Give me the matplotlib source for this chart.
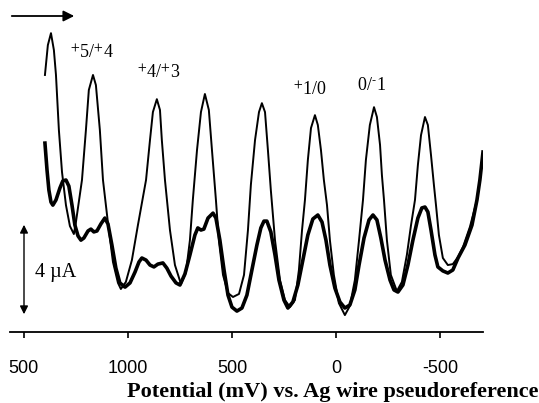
import matplotlib
matplotlib.use("Agg")
import matplotlib.pyplot as plt

plt.rcParams['mathtext.fontset'] = 'stix'

# Potential (mV) and current (µA)
thin_mv = [1399, 1385, 1370, 1356, 1346, 1332, 1317, 1298, 1279, 1260, 1250, 1221, 1202, 1188,
           1168, 1154, 1135, 1120, 1096, 1072, 1048, 1034, 1010, 981, 952, 913, 894, 880, 861,
           846, 837, 822, 798, 774, 745, 721, 702, 688, 668, 649, 630, 611, 596, 577, 563, 543,
           519, 495, 466, 442, 423, 409, 389, 370, 356, 341, 327, 313, 293, 269, 245, 221, 197,
           178, 163, 149, 135, 120, 101, 87, 72, 58, 43, 29, 10, -14, -43, -67, -91, -111, -130,
           -144, -163, -183, -197, -212, -221, -231, -245, -264, -293, -317, -341, -361, -380,
           -394, -409, -428, -442, -457, -471, -481, -495, -514, -538, -562, -587, -611, -644,
           -678, -692, -707]
thin_ua = [10.94, 12.21, 12.72, 12.00, 10.94, 8.60, 6.81, 5.40, 4.51, 4.17, 4.68, 6.47, 8.60, 10.30,
           10.94, 10.51, 8.60, 6.47, 4.64, 2.98, 2.09, 1.83, 2.13, 3.06, 4.55, 6.47, 8.17, 9.36, 9.91,
           9.45, 8.17, 6.47, 4.34, 2.85, 2.04, 2.55, 3.91, 5.62, 7.74, 9.36, 10.13, 9.45, 7.74, 5.62,
           3.91, 2.43, 1.66, 1.49, 1.62, 2.43, 4.34, 6.26, 8.17, 9.36, 9.74, 9.36, 7.74, 6.04, 3.91,
           2.21, 1.36, 1.06, 1.36, 2.64, 4.34, 5.62, 7.32, 8.68, 9.23, 8.81, 7.74, 6.47, 5.40, 3.91,
           2.43, 1.23, 0.72, 1.11, 2.21, 3.91, 5.62, 7.32, 8.81, 9.57, 9.15, 7.96, 6.68, 5.62, 3.91,
           2.43, 1.74, 2.13, 3.28, 4.55, 5.62, 7.11, 8.38, 9.15, 8.81, 7.53, 6.26, 5.40, 4.13, 3.15,
           2.85, 2.89, 3.19, 3.62, 4.47, 5.62, 6.47, 7.66]

thick_mv = [1399, 1389, 1380, 1370, 1361, 1346, 1327, 1313, 1298, 1284, 1269, 1255, 1240, 1226,
            1212, 1192, 1178, 1164, 1149, 1130, 1111, 1096, 1077, 1058, 1039, 1014, 990, 966, 947,
            933, 913, 894, 875, 856, 832, 813, 793, 769, 750, 726, 702, 678, 664, 649, 635, 615,
            591, 577, 558, 538, 519, 500, 476, 452, 428, 404, 380, 361, 346, 332, 313, 293, 274,
            250, 231, 207, 183, 159, 135, 111, 87, 67, 48, 29, 5, -19, -43, -67, -91, -111, -135,
            -159, -178, -197, -216, -236, -260, -279, -298, -322, -346, -370, -394, -413, -428,
            -442, -457, -476, -490, -514, -538, -562, -587, -620, -654, -678, -692, -707]
thick_ua = [8.04, 6.89, 6.04, 5.53, 5.40, 5.62, 6.13, 6.43, 6.47, 6.21, 5.40, 4.55, 4.09, 3.91,
            4.00, 4.30, 4.38, 4.26, 4.30, 4.60, 4.85, 4.60, 3.70, 2.72, 2.09, 1.91, 2.09, 2.55, 2.98,
            3.15, 3.06, 2.85, 2.77, 2.89, 2.94, 2.72, 2.38, 2.09, 2.00, 2.47, 3.28, 4.13, 4.43, 4.34,
            4.38, 4.85, 5.06, 4.85, 3.91, 2.64, 1.57, 1.06, 0.89, 1.02, 1.57, 2.64, 3.70, 4.43, 4.72,
            4.72, 4.26, 3.28, 2.21, 1.36, 1.02, 1.28, 2.00, 3.06, 4.13, 4.81, 4.98, 4.68, 3.91, 2.85,
            1.87, 1.28, 1.02, 1.15, 1.79, 2.85, 4.00, 4.77, 4.98, 4.77, 4.00, 3.06, 2.21, 1.79, 1.70,
            2.00, 2.85, 3.91, 4.85, 5.28, 5.32, 5.11, 4.34, 3.28, 2.77, 2.60, 2.51, 2.64, 3.15, 3.70,
            4.55, 5.62, 6.47, 7.66]

tick_values = [1500, 1000, 500, 0, -500]
tick_labels = ['500', '1000', '500', '0', '-500']

peak_labels = [r'$^{+}$5/$^{+}$4', r'$^{+}$4/$^{+}$3', r'$^{+}$1/0', r'0/$^{\text{-}}$1']
peak_label_pos = [(1279, 11.85), (957, 11.0), (207, 10.3), (-101, 10.5)]

fig = plt.figure(figsize=(5.39, 4.03), dpi=100)
ax = fig.add_axes([10/539, 71/403, 473/539, 312/403])

ax.plot(thin_mv, thin_ua, color='black', lw=1.4, solid_joinstyle='round')
ax.plot(thick_mv, thick_ua, color='black', lw=2.6, solid_joinstyle='round')

ax.set_xlim(1567, -707)
ax.set_ylim(0, 13.28)

for s in ['top', 'right', 'left']:
    ax.spines[s].set_visible(False)
ax.spines['bottom'].set_linewidth(1.3)
ax.set_yticks([])
ax.set_xticks(tick_values)
ax.set_xticklabels(tick_labels, fontfamily='Liberation Sans', fontsize=13)
ax.tick_params(axis='x', direction='out', length=4, width=1.2, pad=16)

for lab, (x, y) in zip(peak_labels, peak_label_pos):
    ax.text(x, y, lab, fontfamily='Liberation Serif', fontsize=13, ha='left', va='center')

# sweep direction arrow
ax.annotate('', xy=(77/539, 1 - 16/403), xytext=(9/539, 1 - 16/403),
            xycoords='figure fraction', textcoords='figure fraction',
            arrowprops=dict(arrowstyle='-|>', color='black', lw=1.3, mutation_scale=16))

# 4 µA scale bar
ax.annotate('', xy=(24/539, 1 - 317/403), xytext=(24/539, 1 - 222/403),
            xycoords='figure fraction', textcoords='figure fraction',
            arrowprops=dict(arrowstyle='<|-|>', color='black', lw=1.0, mutation_scale=12))
fig.text(35/539, 1 - 273/403, '4 µA', fontfamily='Liberation Serif', fontsize=14.5,
         ha='left', va='center')

fig.text(127/539, 1 - 392/403, 'Potential (mV) vs. Ag wire pseudoreference',
         fontfamily='Liberation Serif', fontweight='bold', fontsize=16, ha='left', va='center')

fig.savefig('out.png', dpi=100)
